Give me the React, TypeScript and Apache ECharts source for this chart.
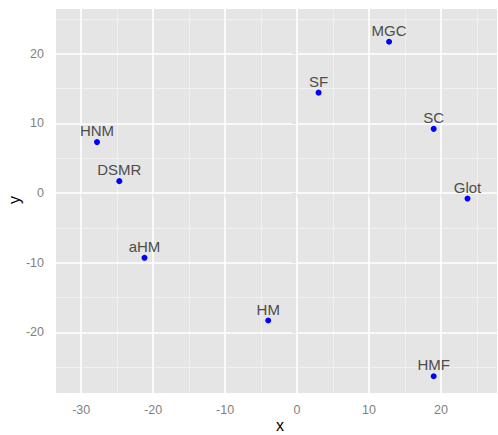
import React, { useEffect, useRef } from "react";
import * as echarts from "echarts";

const names = ["MGC", "SF", "SC", "HNM", "DSMR", "Glot", "aHM", "HM", "HMF"];
const xs = [12.8, 3.0, 19.0, -27.8, -24.7, 23.7, -21.2, -4.0, 19.0];
const ys = [21.7, 14.4, 9.2, 7.3, 1.7, -0.8, -9.3, -18.3, -26.3];
const xMajor = [-30, -20, -10, 0, 10, 20];
const yMajor = [-20, -10, 0, 10, 20];
const xMinor = [-25, -15, -5, 5, 15, 25];
const yMinor = [-25, -15, -5, 5, 15, 25];
const xTitle = "x";
const yTitle = "y";

const FONT = "'Liberation Sans', Arial, sans-serif";

export default function App() {
  const ref = useRef<HTMLDivElement>(null);
  useEffect(() => {
    const chart = echarts.init(ref.current!, null, { renderer: "svg" });
    const minorLines = [
      ...xMinor.map((v) => ({ xAxis: v })),
      ...yMinor.map((v) => ({ yAxis: v })),
    ];
    const majorLines = [
      ...xMajor.map((v) => ({ xAxis: v })),
      ...yMajor.map((v) => ({ yAxis: v })),
    ];
    chart.setOption({
      animation: false,
      textStyle: { fontFamily: FONT },
      grid: {
        left: 56,
        right: 1,
        top: 9,
        bottom: 42,
        show: true,
        backgroundColor: "#E5E5E5",
        borderWidth: 0,
        containLabel: false,
        outerBoundsMode: "none",
      },
      graphic: [
        {
          type: "text",
          x: 280,
          y: 425,
          style: {
            text: xTitle,
            fill: "#000",
            font: `16px ${FONT}`,
            align: "center",
            verticalAlign: "middle",
          },
        },
        {
          type: "text",
          x: 14,
          y: 200,
          rotation: Math.PI / 2,
          style: {
            text: yTitle,
            fill: "#000",
            font: `16px ${FONT}`,
            align: "center",
            verticalAlign: "middle",
          },
        },
      ],
      xAxis: {
        type: "value",
        min: -33.5,
        max: 27.8,
        axisLine: { show: false },
        axisTick: {
          show: true,
          length: 5,
          customValues: xMajor,
          lineStyle: { color: "#7F7F7F", width: 1 },
        },
        axisLabel: {
          customValues: xMajor,
          color: "#7F7F7F",
          fontSize: 12.5,
          margin: 10,
          fontFamily: FONT,
        },
        splitLine: { show: false },
      },
      yAxis: {
        type: "value",
        min: -28.7,
        max: 26.4,
        axisLine: { show: false },
        axisTick: {
          show: true,
          length: 5,
          customValues: yMajor,
          lineStyle: { color: "#7F7F7F", width: 1 },
        },
        axisLabel: {
          customValues: yMajor,
          color: "#7F7F7F",
          fontSize: 12.5,
          margin: 12,
          fontFamily: FONT,
        },
        splitLine: { show: false },
      },
      series: [
        {
          type: "scatter",
          data: [],
          silent: true,
          markLine: {
            silent: true,
            symbol: "none",
            label: { show: false },
            lineStyle: { color: "#F2F2F2", width: 0.8, type: "solid" },
            data: minorLines,
          },
        },
        {
          type: "scatter",
          data: [],
          silent: true,
          markLine: {
            silent: true,
            symbol: "none",
            label: { show: false },
            lineStyle: { color: "#FFFFFF", width: 1.6, type: "solid" },
            data: majorLines,
          },
        },
        {
          type: "scatter",
          symbolSize: 6,
          itemStyle: { color: "#0000FF", opacity: 1 },
          data: names.map((n, i) => ({ name: n, value: [xs[i], ys[i]] })),
          label: {
            show: true,
            position: "top",
            distance: 1,
            formatter: (p: any) => p.name,
            color: "#4D4D4D",
            fontSize: 15,
            fontFamily: FONT,
          },
          z: 5,
        },
      ],
    });
    return () => chart.dispose();
  }, []);
  return <div ref={ref} style={{ width: 498, height: 435, position: "absolute", left: 0, top: 0 }} />;
}
